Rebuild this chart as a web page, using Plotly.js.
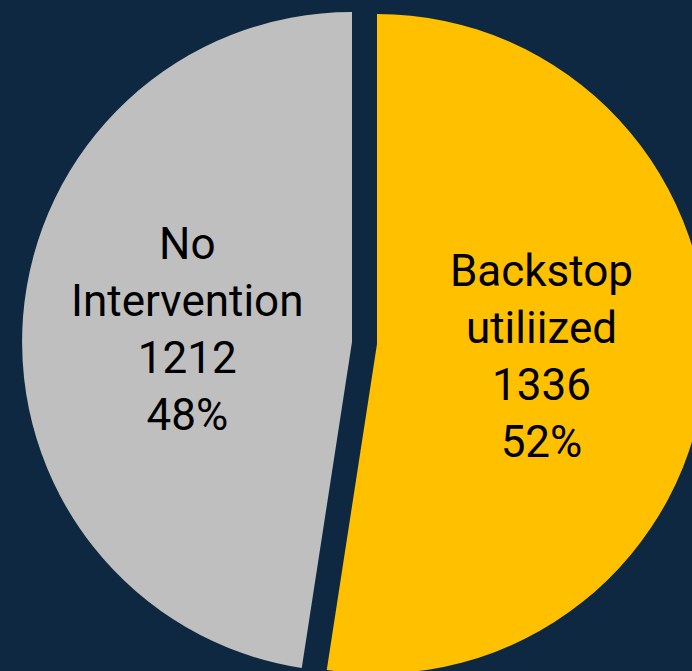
<!DOCTYPE html>
<html>
<head>
<meta charset="utf-8">
<script src="https://cdn.plot.ly/plotly-3.0.1.min.js"></script>
<style>
html,body{margin:0;padding:0;width:692px;height:671px;overflow:hidden;background:#0E2841;}
#chart{position:absolute;left:-3px;top:-13px;width:710px;height:710px;}
</style>
</head>
<body>
<div id="chart"></div>
<script>
var labels = ["Backstop<br>utiliized", "No<br>Intervention"];
var values = [1336, 1212];
var colors = ["#FFC000", "#BFBFBF"];
var pulls = [0.076, 0];

Plotly.newPlot("chart", [{
  type: "pie",
  labels: labels,
  values: values,
  sort: false,
  direction: "clockwise",
  rotation: 0,
  pull: pulls,
  marker: {colors: colors, line: {width: 0}},
  texttemplate: "%{label}<br>%{value}<br>%{percent:.0%}",
  textposition: "inside",
  insidetextorientation: "horizontal",
  textfont: {family: "Roboto, sans-serif", size: 44, color: "#000000"},
  hoverinfo: "none",
  showlegend: false
}], {
  width: 710,
  height: 710,
  margin: {l: 0, r: 0, t: 0, b: 0},
  paper_bgcolor: "#0E2841",
  plot_bgcolor: "#0E2841",
  showlegend: false
}, {displayModeBar: false, staticPlot: true});
</script>
</body>
</html>
